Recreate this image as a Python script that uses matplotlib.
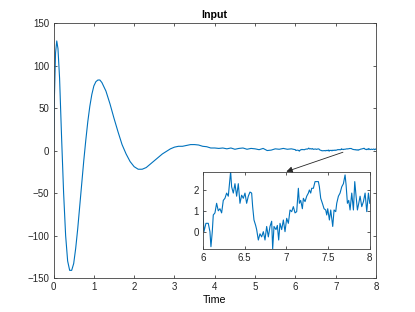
import matplotlib
matplotlib.use("Agg")
import matplotlib.pyplot as plt

# Main response (time in s)
t_main = [0.0, 0.02, 0.05, 0.08, 0.11, 0.15, 0.2, 0.25, 0.3, 0.35, 0.4, 0.45,
          0.5, 0.55, 0.6, 0.65, 0.7, 0.75, 0.8, 0.85, 0.9, 0.95, 1.0, 1.05,
          1.1, 1.15, 1.2, 1.3, 1.4, 1.5, 1.6, 1.7, 1.8, 1.9, 2.0, 2.1, 2.2,
          2.3, 2.4, 2.5, 2.6, 2.7, 2.8, 2.9, 3.0, 3.1, 3.2, 3.3, 3.4, 3.5,
          3.6, 3.7, 3.8, 3.9, 4.0, 4.1, 4.2, 4.3, 4.4, 4.5, 4.6, 4.7, 4.8,
          4.9, 5.0, 5.1, 5.2, 5.3, 5.4, 5.5, 5.6, 5.7, 5.8, 5.9]
y_main = [0, 60, 115, 129, 120, 85, 15, -50, -100, -130, -141, -141,
          -133, -115, -92, -65, -38, -12, 12, 34, 52, 66, 76, 81,
          83, 83, 80, 70, 55, 38, 22, 7, -4, -13, -19, -22, -22,
          -20, -16, -12, -8, -4, -1, 2, 4, 5, 5, 6, 7, 7,
          6.5, 5, 4.5, 3, 3, 2.5, 3, 2, 3, 1.5, 2.5, 3, 1.5,
          2.5, 2, 1, 2.5, 0, 0.5, 2, 1.5, 2.5, 1.5, 2]

# Tail between 6 and 8 s (zoomed view)
t_tail = [6.000, 6.012, 6.036, 6.064, 6.084, 6.096, 6.112, 6.124, 6.144, 6.164,
          6.184, 6.204, 6.224, 6.244, 6.264, 6.284, 6.304, 6.332, 6.344, 6.364,
          6.384, 6.404, 6.424, 6.444, 6.464, 6.484, 6.504, 6.524, 6.544, 6.564,
          6.584, 6.596, 6.612, 6.632, 6.644, 6.664, 6.684, 6.704, 6.724, 6.744,
          6.764, 6.784, 6.804, 6.824, 6.836, 6.852, 6.876, 6.892, 6.908, 6.924,
          6.944, 6.964, 6.984, 7.004, 7.024, 7.044, 7.064, 7.084, 7.104, 7.124,
          7.144, 7.156, 7.172, 7.192, 7.204, 7.224, 7.244, 7.264, 7.276, 7.292,
          7.304, 7.324, 7.344, 7.364, 7.384, 7.396, 7.412, 7.432, 7.452, 7.472,
          7.484, 7.496, 7.516, 7.532, 7.556, 7.572, 7.592, 7.604, 7.624, 7.644,
          7.664, 7.684, 7.704, 7.716, 7.732, 7.748, 7.764, 7.784, 7.804, 7.820,
          7.836, 7.852, 7.868, 7.884, 7.904, 7.924, 7.944, 7.964, 7.984, 8.000]
y_tail = [1.0, 0.0, 0.4, 0.4, 0.0, -0.72, 0.0, 0.8, 0.9, 1.36,
          1.0, 1.1, 0.9, 1.5, 1.6, 1.85, 1.7, 2.88, 2.15, 1.85,
          2.3, 1.7, 2.3, 1.36, 1.75, 1.6, 1.85, 1.36, 1.7, 1.9,
          1.85, 1.2, 0.56, 0.3, 0.1, -0.4, -0.1, -0.25, 0.0, -0.4,
          0.25, -0.25, 0.25, 0.5, -0.83, 0.25, 0.1, 0.3, -0.4, 0.4,
          0.1, 0.56, 0.0, 0.64, 0.4, 1.04, 0.96, 1.2, 0.9, 0.96,
          2.08, 1.36, 1.5, 1.1, 1.6, 1.44, 1.7, 1.85, 2.0, 1.85,
          2.08, 2.08, 2.4, 2.4, 2.4, 2.15, 1.6, 1.36, 1.1, 1.04,
          0.8, 1.1, 0.56, 1.04, 0.25, 1.04, 0.96, 1.36, 1.7, 1.85,
          2.15, 2.3, 2.72, 2.25, 1.36, 1.5, 1.04, 1.85, 1.04, 2.4,
          1.7, 1.04, 1.36, 1.7, 1.2, 1.44, 1.85, 0.96, 1.85, 1.36]

main_xticks = [0, 1, 2, 3, 4, 5, 6, 7, 8]
main_yticks = [-150, -100, -50, 0, 50, 100, 150]
zoom_xticks = [6, 6.5, 7, 7.5, 8]
zoom_yticks = [0, 1, 2]

blue = "#0072BD"
axcol = "#404040"
plt.rcParams["font.family"] = ["Liberation Sans", "DejaVu Sans"]


def matlab_style(a):
    for s in a.spines.values():
        s.set_color(axcol)
        s.set_linewidth(0.6)
    a.tick_params(direction="in", length=2.5, width=0.6, colors=axcol,
                  labelcolor="#262626", labelsize=7, top=True, right=True, pad=3)


fig = plt.figure(figsize=(4.15, 3.12), dpi=100)
ax = fig.add_axes([0.129, 0.109, 0.777, 0.817])
ax.plot(t_main + t_tail, y_main + y_tail, color=blue, lw=0.8)
ax.set_xlim(0, 8)
ax.set_ylim(-150, 150)
ax.set_xticks(main_xticks)
ax.set_yticks(main_yticks)
matlab_style(ax)
ax.set_title("Input", fontsize=7.7, fontweight="bold", pad=4)
ax.set_xlabel("Time", fontsize=7.7, labelpad=2)

axin = fig.add_axes([0.489, 0.202, 0.402, 0.248])
axin.plot(t_tail, y_tail, color=blue, lw=0.8)
axin.set_xlim(6, 8)
axin.set_ylim(min(y_tail), max(y_tail))
axin.set_xticks(zoom_xticks)
axin.set_xticklabels(["6", "6.5", "7", "7.5", "8"])
axin.set_yticks(zoom_yticks)
matlab_style(axin)

# arrow from the tail of the main curve to the zoomed view
axin.annotate("", xy=(7.0, max(y_tail)), xycoords="data",
              xytext=(7.18, -2), textcoords=ax.transData,
              arrowprops=dict(arrowstyle="-|>", color="#262626", lw=0.6,
                              mutation_scale=9, shrinkA=0, shrinkB=0))

fig.savefig("out.png", dpi=100)
